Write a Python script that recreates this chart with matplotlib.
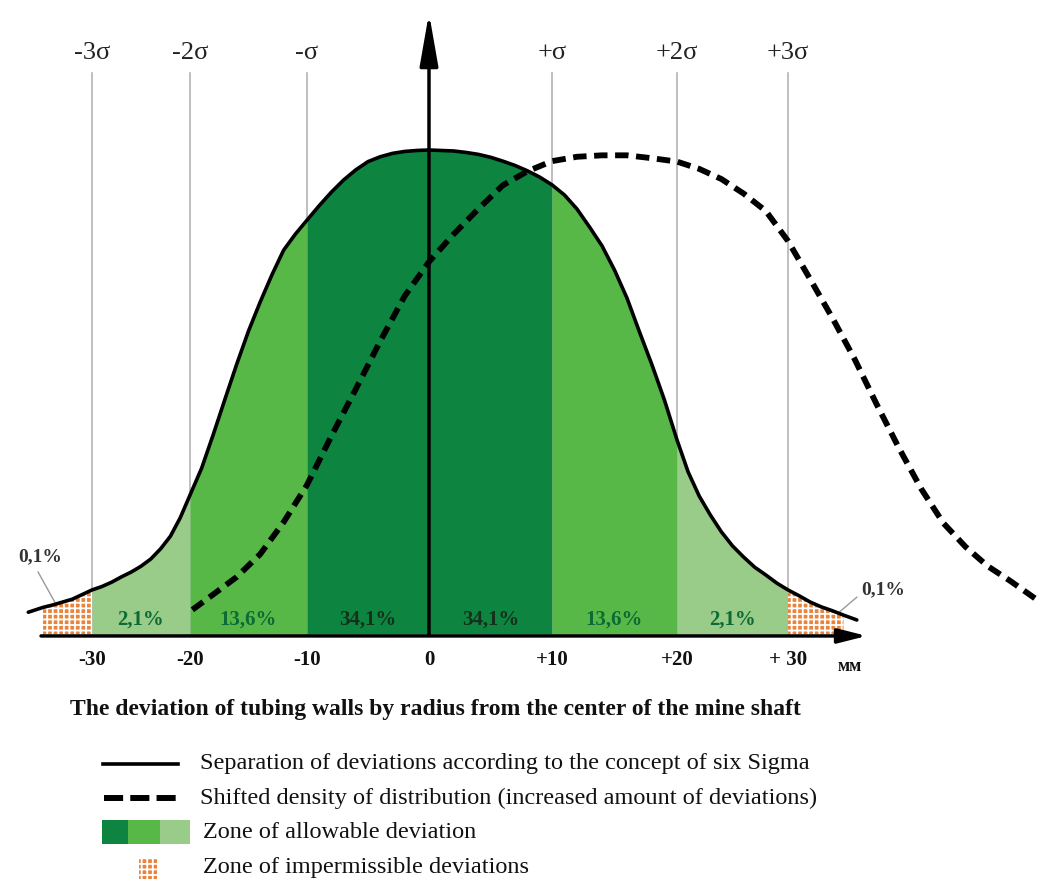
import numpy as np
import matplotlib
matplotlib.use('Agg')
from matplotlib import pyplot as plt
from matplotlib.patches import Rectangle

plt.rcParams['font.family'] = ['Liberation Serif', 'DejaVu Serif']
plt.rcParams['hatch.linewidth'] = 1.3

# six sigma curve: deviation in mm, height relative to the peak
x_norm = [-36.5, -35, -34, -32,
          -30, -29, -28, -27, -26, -25, -24, -23, -22, -21, -20, -19, -18, -17, -16, -15,
          -14, -13, -12, -11, -10, -9, -8, -7, -6, -5, -4, -3, -2, -1, 0,
          1, 2, 3, 4, 5, 6, 7, 8, 9, 10, 11, 12, 13, 14, 15, 16, 17, 18, 19, 20,
          21, 22, 23, 24, 25, 26, 27, 28, 29, 30, 31, 32, 33, 34, 35, 36.2]
y_norm = [0.045, 0.055, 0.060, 0.072,
          0.091, 0.098, 0.107, 0.118, 0.128, 0.140, 0.155, 0.176, 0.202, 0.240, 0.287, 0.343, 0.413, 0.486, 0.558, 0.626,
          0.686, 0.742, 0.793, 0.826, 0.855, 0.885, 0.913, 0.938, 0.959, 0.976, 0.986, 0.993, 0.997, 0.999, 1.0,
          0.999, 0.998, 0.995, 0.991, 0.985, 0.977, 0.968, 0.957, 0.944, 0.928, 0.907, 0.878, 0.841, 0.802, 0.752,
          0.694, 0.624, 0.556, 0.483, 0.401,
          0.335, 0.285, 0.246, 0.211, 0.182, 0.159, 0.138, 0.122, 0.105, 0.091, 0.079, 0.066, 0.056, 0.048, 0.039, 0.029]

# shifted density (dashed)
x_shift = [-19.8, -18, -16, -14, -12, -10, -8, -6, -4, -2, 0, 2, 4, 6, 8, 10, 12, 14, 16, 18,
           20, 22, 24, 26, 28, 30, 32, 34, 36, 38, 40, 42, 44, 46, 48, 50, 52.6]
y_shift = [0.050, 0.082, 0.118, 0.165, 0.231, 0.308, 0.409, 0.506, 0.605, 0.698, 0.769, 0.826, 0.878, 0.927,
           0.956, 0.977, 0.986, 0.989, 0.989, 0.983, 0.976, 0.961, 0.940, 0.910, 0.874, 0.812, 0.733, 0.653,
           0.568, 0.474, 0.384, 0.300, 0.229, 0.180, 0.140, 0.110, 0.068]

zone_edges = [(-30, -20), (-20, -10), (-10, 0), (0, 10), (10, 20), (20, 30)]
zone_labels = ['2,1%', '13,6%', '34,1%', '34,1%', '13,6%', '2,1%']
bad_zones = [(-35, -30), (30, 35)]
bad_label = '0,1%'

sigma_pos = [-30, -20, -10, 10, 20, 30]
sigma_labels = ['-3σ', '-2σ', '-σ', '+σ', '+2σ', '+3σ']
tick_pos = [-30, -20, -10, 0, 10, 20, 30]
tick_labels = ['-30', '-20', '-10', '0', '+10', '+20', '+ 30']

dark = '#0d8540'
mid = '#57b848'
light = '#98cc88'
zone_colors = [light, mid, dark, dark, mid, light]
zone_text = ['#0c6b35', '#0c6b35', '#15301c', '#15301c', '#0c6b35', '#0c6b35']
orange = '#e8843c'

# the drawing's mm grid is not evenly spaced
knot_mm = [-80, -30, -20, -10, 0, 10, 20, 30, 80]
knot_u = [-398, 92, 190, 307, 429, 552, 677, 788, 1343]
fwd = lambda v: np.interp(v, knot_mm, knot_u)
inv = lambda u: np.interp(u, knot_u, knot_mm)

W, H = 1039, 881
fig = plt.figure(figsize=(W / 100, H / 100), dpi=100)
ax = fig.add_axes([0, 0, 1, 1])
ax.set_xscale('function', functions=(fwd, inv))
ax.set_xlim(inv(0), inv(W))
ax.set_ylim(-(H - 634) / 484, 634 / 484)
ax.axis('off')

xn = np.array(x_norm)
yn = np.array(y_norm)

# grey sigma lines + labels
for p, lab in zip(sigma_pos, sigma_labels):
    ax.plot([p, p], [0, 1.159], color='#b4b4b4', lw=1.2, zorder=0.5)
    ax.text(p, 1.20, lab, ha='center', va='center', fontsize=19, color='#222222')

# zones
for (lo, hi), c, lab, tc in zip(zone_edges, zone_colors, zone_labels, zone_text):
    m = (xn >= lo) & (xn <= hi)
    ax.fill_between(xn[m], 0, yn[m], color=c, lw=0, zorder=1)
    ax.text((lo + hi) / 2, 0.03, lab, ha='center', va='center', fontsize=15,
            fontweight='bold', color=tc, zorder=6)

for lo, hi in bad_zones:
    m = (xn >= lo) & (xn <= hi)
    ax.fill_between(xn[m], 0, yn[m], facecolor=orange, edgecolor='white', lw=0,
                    hatch='+++', zorder=1)

ax.plot(xn, yn, color='black', lw=2.6, zorder=3, solid_capstyle='round', solid_joinstyle='round')
ax.plot(x_shift, y_shift, color='black', lw=4.2, dashes=(2.3, 1.3), zorder=4,
        dash_capstyle='butt')

# 0,1% callouts
ax.text(-35.3, 0.16, bad_label, ha='center', va='center', fontsize=14, fontweight='bold', color='#333333')
ax.plot([-35.5, -33.8], [0.128, 0.066], color='#999999', lw=1, zorder=2)
ax.text(38.6, 0.092, bad_label, ha='center', va='center', fontsize=14, fontweight='bold', color='#333333')
ax.plot([34.5, 36.2], [0.043, 0.076], color='#999999', lw=1, zorder=2)

# axes arrows
ax.annotate('', xy=(0, 1.283), xytext=(0, 0),
            arrowprops=dict(arrowstyle='-|>,head_length=1.6,head_width=0.28', color='black',
                            lw=2.5, mutation_scale=20, shrinkA=0, shrinkB=0), zorder=5)
ax.annotate('', xy=(37.1, -0.004), xytext=(-35.2, -0.004),
            arrowprops=dict(arrowstyle='-|>,head_length=0.87,head_width=0.22', color='black',
                            lw=2.5, mutation_scale=20, shrinkA=0, shrinkB=0), zorder=5)

for p, lab in zip(tick_pos, tick_labels):
    ax.text(p, -0.054, lab, ha='center', va='center', fontsize=15, fontweight='bold', color='#111111')
ax.text(35.6, -0.068, 'мм', ha='center', va='center', fontsize=13, fontweight='bold', color='#111111')

fig.text(435 / W, 1 - 710 / H, 'The deviation of tubing walls by radius from the center of the mine shaft',
         ha='center', va='center', fontsize=17, fontweight='bold', color='#111111')

# legend drawn by hand, pixel positions -> figure fraction
fx = lambda px: px / W
fy = lambda py: 1 - py / H
tr = fig.transFigure
ax.plot([fx(103), fx(178)], [fy(764), fy(764)], color='black', lw=2.6, transform=tr)
ax.plot([fx(104), fx(178)], [fy(798), fy(798)], color='black', lw=4.3, dashes=(3.2, 1.2),
        dash_capstyle='butt', transform=tr)
for x0, x1, c in [(102, 128, dark), (128, 160, mid), (160, 190, light)]:
    fig.patches.append(Rectangle((fx(x0), fy(844)), fx(x1) - fx(x0), 24 / H, color=c, lw=0, transform=tr))
fig.patches.append(Rectangle((fx(139), fy(879)), 18 / W, 20 / H, facecolor=orange, edgecolor='white',
                             lw=0, hatch='+++', transform=tr))
legend_texts = ['Separation of deviations according to the concept of six Sigma',
                'Shifted density of distribution (increased amount of deviations)',
                'Zone of allowable deviation',
                'Zone of impermissible deviations']
for py, px, t in zip([764, 798, 832, 868], [200, 200, 203, 203], legend_texts):
    fig.text(fx(px), fy(py), t, ha='left', va='center', fontsize=17.5, color='#111111')

fig.savefig('out.png', dpi=100)
